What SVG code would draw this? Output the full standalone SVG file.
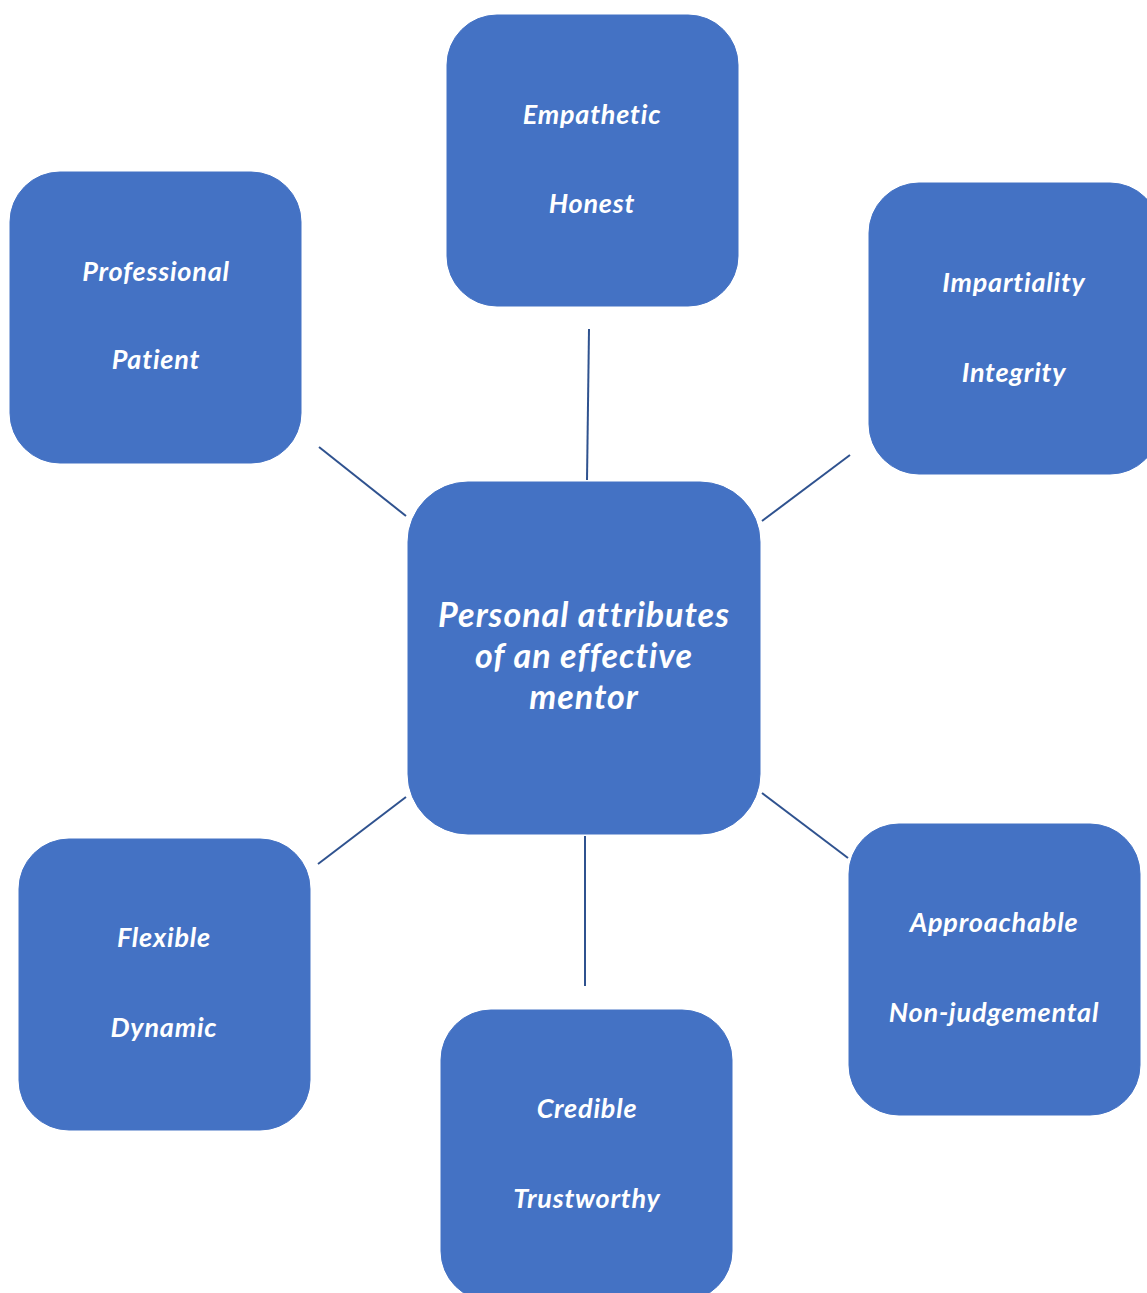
<svg xmlns="http://www.w3.org/2000/svg" width="1147" height="1293" viewBox="0 0 1147 1293">
<style>
.box{fill:#4472C4;stroke:#4472C4;stroke-width:1}
.t{font-family:Lato,"Open Sans","Liberation Sans",sans-serif;font-weight:bold;font-style:italic;font-size:27px;letter-spacing:0.8px;fill:#ffffff;text-anchor:middle}
.c{font-size:34px;letter-spacing:1px}
.edge{stroke:#2F528F;stroke-width:2;fill:none}
</style>
<rect width="1147" height="1293" fill="#ffffff"/>
<g id="connectors">
<line class="edge" x1="589" y1="329" x2="587" y2="480"/>
<line class="edge" x1="319" y1="447" x2="406" y2="516"/>
<line class="edge" x1="850" y1="455" x2="762" y2="521"/>
<line class="edge" x1="406" y1="797" x2="318" y2="864"/>
<line class="edge" x1="585" y1="836" x2="585" y2="986"/>
<line class="edge" x1="762" y1="793" x2="848" y2="858"/>
</g>
<g id="center">
<rect class="box" x="408" y="482" width="352" height="352" rx="60"/>
<text class="t c" x="584" y="627">Personal attributes</text>
<text class="t c" x="584" y="668">of an effective</text>
<text class="t c" x="584" y="709">mentor</text>
</g>
<g id="n-empathetic">
<rect class="box" x="447" y="15" width="291" height="291" rx="50"/>
<text class="t" x="592" y="124">Empathetic</text>
<text class="t" x="592" y="213">Honest</text>
</g>
<g id="n-professional">
<rect class="box" x="10" y="172" width="291" height="291" rx="50"/>
<text class="t" x="156" y="281">Professional</text>
<text class="t" x="156" y="369">Patient</text>
</g>
<g id="n-impartiality">
<rect class="box" x="869" y="183" width="291" height="291" rx="50"/>
<text class="t" x="1014" y="292">Impartiality</text>
<text class="t" x="1014" y="382">Integrity</text>
</g>
<g id="n-flexible">
<rect class="box" x="19" y="839" width="291" height="291" rx="50"/>
<text class="t" x="164" y="947">Flexible</text>
<text class="t" x="164" y="1037">Dynamic</text>
</g>
<g id="n-credible">
<rect class="box" x="441" y="1010" width="291" height="291" rx="50"/>
<text class="t" x="587" y="1118">Credible</text>
<text class="t" x="587" y="1208">Trustworthy</text>
</g>
<g id="n-approachable">
<rect class="box" x="849" y="824" width="291" height="291" rx="50"/>
<text class="t" x="994" y="932">Approachable</text>
<text class="t" x="994" y="1022">Non-judgemental</text>
</g>
</svg>
